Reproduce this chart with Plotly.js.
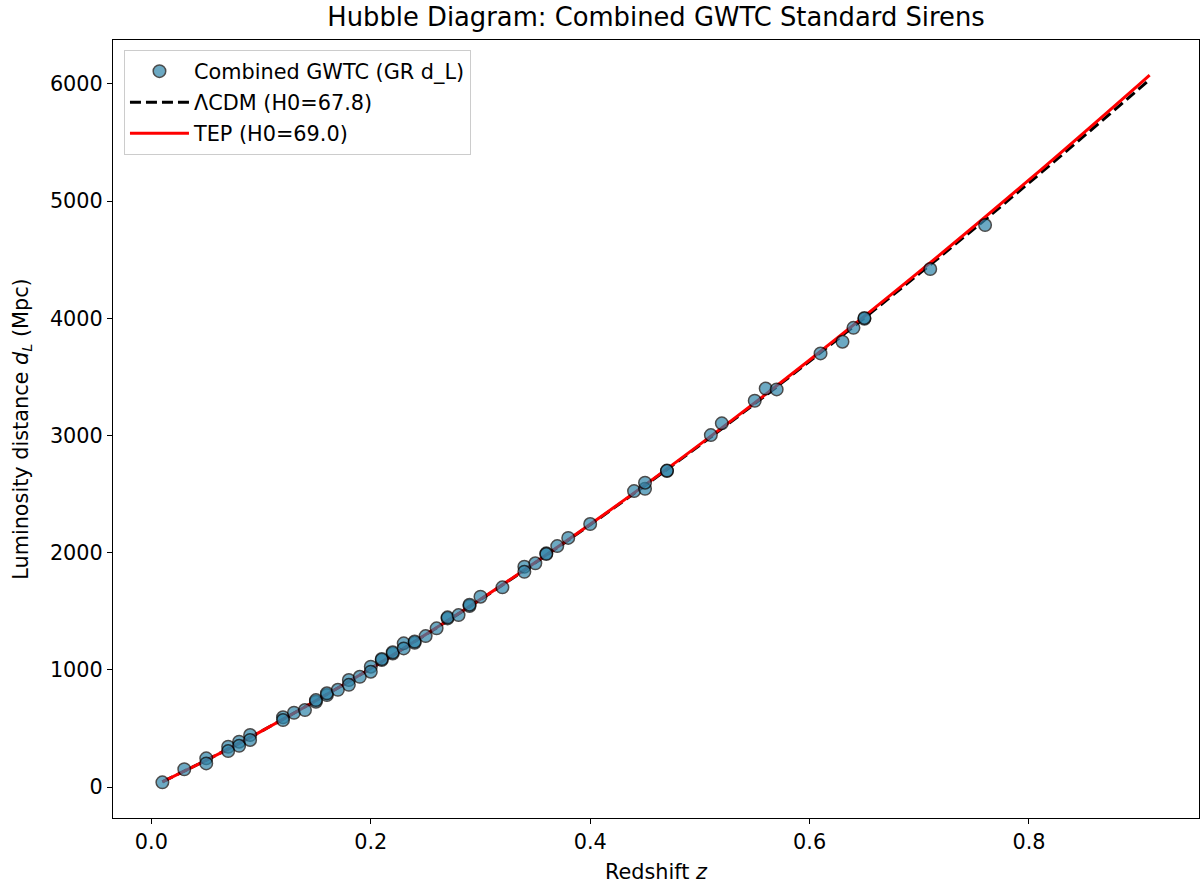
<!DOCTYPE html>
<html>
<head>
<meta charset="utf-8">
<script src="https://cdn.plot.ly/plotly-3.0.1.min.js"></script>
<style>html,body{margin:0;padding:0;background:#fff;}#chart{width:1204px;height:887px;}</style>
</head>
<body>
<div id="chart"></div>
<script>
// Observed standard sirens (redshift, luminosity distance in Mpc)
const sirenZ = [0.01,0.03,0.05,0.05,0.07,0.07,0.08,0.08,0.09,0.09,
  0.12,0.12,0.13,0.14,0.15,0.15,0.16,0.16,0.17,0.18,
  0.18,0.19,0.20,0.20,0.21,0.21,0.22,0.22,0.23,0.23,
  0.24,0.24,0.25,0.26,0.27,0.27,0.28,0.29,0.29,0.30,
  0.32,0.34,0.34,0.35,0.36,0.36,0.37,0.38,0.40,0.44,
  0.45,0.45,0.47,0.47,0.51,0.52,0.55,0.56,0.57,0.61,
  0.63,0.64,0.65,0.65,0.71,0.76];
const sirenDL = [40,152,245,202,344,307,387,352,444,402,
  595,572,634,657,728,742,785,800,830,913,
  872,941,1027,984,1084,1092,1140,1150,1226,1183,
  1231,1242,1288,1354,1439,1448,1467,1544,1556,1624,
  1704,1880,1837,1909,1994,1988,2056,2126,2244,2525,
  2545,2597,2696,2700,3003,3103,3296,3400,3393,3700,
  3800,3918,3995,4003,4420,4795];

// Model curves
const modelZ = [0.01,0.05,0.10,0.20,0.30,0.40,0.50,0.60,0.70,0.80,0.90,0.91];
const lcdmDL = [45,229,475,1011,1600,2238,2917,3633,4380,5155,5955,6035];
const tepDL  = [45,229,475,1012,1602,2242,2924,3644,4397,5180,5992,6075];

const labels = {
  sirens: 'Combined GWTC (GR d_L)',
  lcdm: '\u039BCDM (H0=67.8)',
  tep: 'TEP (H0=69.0)'
};

const font = 'DejaVu Sans, sans-serif';

const traces = [
  {
    x: modelZ, y: lcdmDL, type: 'scatter', mode: 'lines', name: labels.lcdm,
    line: {color: '#000000', width: 3, dash: '11px,5px', shape: 'spline'},
    legendrank: 2, legendgroup: 'b', hoverinfo: 'skip'
  },
  {
    x: modelZ, y: tepDL, type: 'scatter', mode: 'lines', name: labels.tep,
    line: {color: '#ff0000', width: 3, shape: 'spline'},
    legendrank: 3, legendgroup: 'c', hoverinfo: 'skip'
  },
  {
    x: sirenZ, y: sirenDL, type: 'scatter', mode: 'markers', name: labels.sirens,
    marker: {color: '#2E86AB', size: 12.5, opacity: 0.7, line: {color: '#000000', width: 1.5}},
    legendrank: 1, legendgroup: 'a'
  }
];

const axisCommon = {
  showline: true, mirror: true, linecolor: '#000', linewidth: 1,
  ticks: 'outside', ticklen: 5, tickwidth: 1, tickcolor: '#000',
  showgrid: false, zeroline: false,
  tickfont: {family: font, size: 20.8, color: '#000'}
};

const layout = {
  width: 1204, height: 887,
  margin: {l: 113, r: 5, t: 40, b: 69},
  paper_bgcolor: '#fff', plot_bgcolor: '#fff',
  font: {family: font, color: '#000'},
  title: {
    text: 'Hubble Diagram: Combined GWTC Standard Sirens',
    font: {family: font, size: 25.8, color: '#000'},
    x: 0.5, xref: 'paper', xanchor: 'center',
    y: 1 - 17/887, yref: 'container', yanchor: 'middle'
  },
  xaxis: Object.assign({}, axisCommon, {
    range: [-0.035, 0.955],
    tickvals: [0, 0.2, 0.4, 0.6, 0.8],
    ticktext: ['0.0', '0.2', '0.4', '0.6', '0.8'],
    title: {text: 'Redshift <i>z</i>', font: {family: font, size: 20.8, color: '#000'}, standoff: 11}
  }),
  yaxis: Object.assign({}, axisCommon, {
    range: [-264, 6374],
    tickvals: [0, 1000, 2000, 3000, 4000, 5000, 6000],
    ticktext: ['0', '1000', '2000', '3000', '4000', '5000', '6000'],
    title: {text: 'Luminosity distance <i>d</i><sub><i>L</i></sub> (Mpc)', font: {family: font, size: 20.8, color: '#000'}, standoff: 15}
  }),
  showlegend: true,
  legend: {
    x: 0.0101, y: 0.987, xanchor: 'left', yanchor: 'top',
    bgcolor: 'rgba(255,255,255,0.8)', bordercolor: '#cccccc', borderwidth: 1,
    font: {family: font, size: 20.8, color: '#000'},
    tracegroupgap: 1, itemwidth: 59
  }
};

Plotly.newPlot('chart', traces, layout, {displayModeBar: false, staticPlot: true});
</script>
</body>
</html>
